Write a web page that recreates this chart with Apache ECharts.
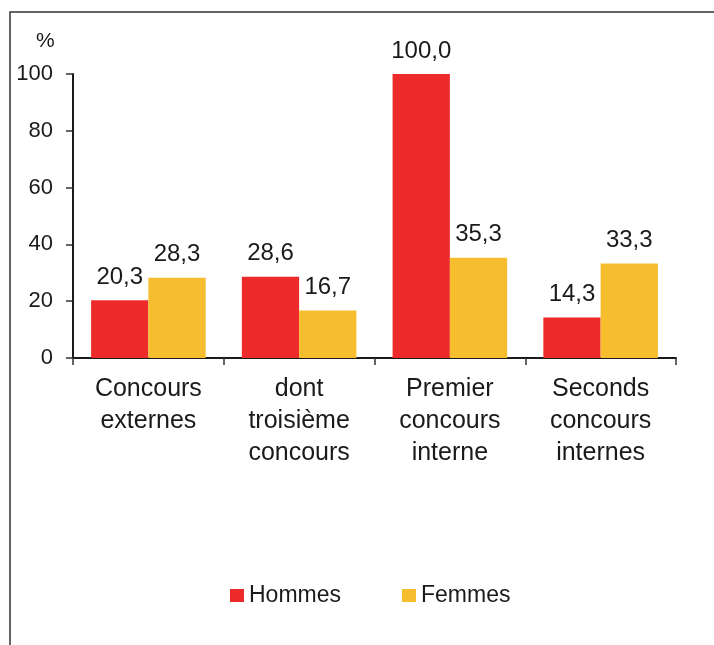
<!DOCTYPE html>
<html>
<head>
<meta charset="utf-8">
<script src="https://cdn.jsdelivr.net/npm/echarts@6/dist/echarts.min.js"></script>
<style>
    html, body { margin: 0; padding: 0; background: #fff; }
    #chart { width: 714px; height: 645px; }
</style>
</head>
<body>
<div id="chart"></div>
<script>
    // categories and values
    var categories = ['Concours\nexternes', 'dont\ntroisième\nconcours', 'Premier\nconcours\ninterne', 'Seconds\nconcours\ninternes'];
    var hommes = [20.3, 28.6, 100.0, 14.3];
    var femmes = [28.3, 16.7, 35.3, 33.3];
    var yTicks = [0, 20, 40, 60, 80, 100];

    var font = 'Liberation Sans, Arial, sans-serif';
    var txt = '#1a1a1a';

    function comma(p) {
        return p.value.toFixed(1).replace('.', ',');
    }

    var myChart = echarts.init(document.getElementById('chart'));
    var option = {
        animation: false,
        textStyle: { fontFamily: font, color: txt },
        graphic: [
            // cadre du graphique (coupé à droite et en bas)
            {
                type: 'rect',
                shape: { x: 10, y: 12, width: 760, height: 700 },
                style: { fill: 'none', stroke: '#333', lineWidth: 1.5 }
            },
            {
                type: 'text',
                left: 36, top: 31,
                style: { text: '%', font: '21px ' + font, fill: txt }
            }
        ],
        legend: {
            data: ['Hommes', 'Femmes'],
            top: 579,
            left: 225,
            itemWidth: 14,
            itemHeight: 13,
            itemGap: 61,
            icon: 'rect',
            textStyle: { fontSize: 23, color: txt, fontFamily: font }
        },
        grid: {
            top: 74,
            left: 73,
            right: 38,
            height: 284
        },
        xAxis: {
            type: 'category',
            data: categories,
            axisLine: { lineStyle: { color: '#1a1a1a', width: 2 } },
            axisTick: { show: true, length: 7, lineStyle: { color: '#333', width: 1.5 } },
            axisLabel: {
                interval: 0,
                fontSize: 25,
                lineHeight: 32,
                margin: 15,
                color: txt
            }
        },
        yAxis: {
            type: 'value',
            min: yTicks[0],
            max: yTicks[yTicks.length - 1],
            interval: 20,
            splitLine: { show: false },
            axisLine: { show: true, lineStyle: { color: '#1a1a1a', width: 2 } },
            axisTick: { show: true, length: 7, lineStyle: { color: '#333', width: 1.5 } },
            axisLabel: { fontSize: 22, margin: 20, color: txt }
        },
        series: [
            {
                name: 'Hommes',
                type: 'bar',
                data: hommes,
                barGap: '0%',
                barCategoryGap: '24%',
                itemStyle: { color: '#EE2B2B' },
                label: { show: true, position: 'top', distance: 11, fontSize: 24, color: txt, formatter: comma }
            },
            {
                name: 'Femmes',
                type: 'bar',
                data: femmes,
                barGap: '0%',
                barCategoryGap: '24%',
                itemStyle: { color: '#F6BD2F' },
                label: { show: true, position: 'top', distance: 11, fontSize: 24, color: txt, formatter: comma }
            }
        ]
    };
    myChart.setOption(option);
</script>
</body>
</html>
